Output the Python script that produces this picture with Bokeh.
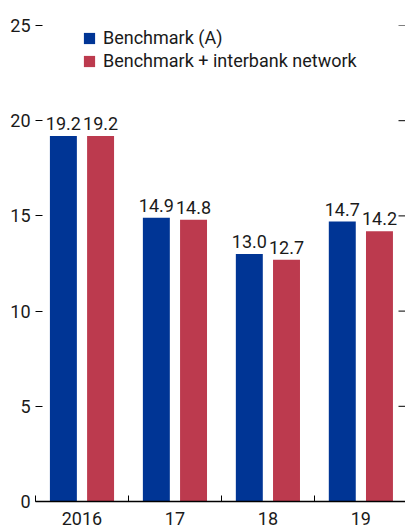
import numpy as np
from bokeh.plotting import figure
from bokeh.models import ColumnDataSource, FixedTicker, LinearAxis, Range1d, Legend, LegendItem
from bokeh.core.properties import value
from bokeh.embed import file_html
from bokeh.resources import INLINE

categories = ["2016", "17", "18", "19"]
benchmark = [19.2, 14.9, 13.0, 14.7]
interbank = [19.2, 14.8, 12.7, 14.2]
series_names = ["Benchmark (A)", "Benchmark + interbank network"]
y_ticks = [0, 5, 10, 15, 20, 25]

BLUE = "#003595"
RED = "#BC3A4E"
FONT = "Roboto"
FS = "18px"
TXT = "#1a1a1a"

X_END = 3.98
centers = np.arange(len(categories)) + 0.5
src_a = ColumnDataSource(dict(x=centers - 0.2, top=benchmark, lab=[f"{v:.1f}" for v in benchmark]))
src_b = ColumnDataSource(dict(x=centers + 0.2, top=interbank, lab=[f"{v:.1f}" for v in interbank]))

p = figure(width=405, height=529, output_backend="svg", toolbar_location=None,
           x_range=Range1d(0, X_END), y_range=Range1d(0, 25),
           min_border_left=35, min_border_right=0, min_border_top=25, min_border_bottom=28,
           y_axis_location=None)
p.outline_line_color = None
p.grid.visible = False
p.background_fill_color = "white"
p.border_fill_color = "white"

r1 = p.vbar(x="x", top="top", width=0.29, source=src_a, color=BLUE, line_color=None)
r2 = p.vbar(x="x", top="top", width=0.29, source=src_b, color=RED, line_color=None)

for s in (src_a, src_b):
    p.text(x="x", y="top", text="lab", source=s, text_align="center", text_baseline="bottom",
           y_offset=-6, text_font=value(FONT), text_font_size=FS, text_color=TXT)

# right-side tick marks (dash markers centred on the frame edge, clipped to the frame)
p.scatter(x=[X_END] * len(y_ticks), y=y_ticks, marker="dash", size=14,
          line_color="black", line_width=1)

# x axis
xa = p.xaxis[0]
xa.ticker = FixedTicker(ticks=list(centers), minor_ticks=list(range(len(categories) + 1)))
xa.major_label_overrides = {float(c): lab for c, lab in zip(centers, categories)}
xa.major_tick_in = 0
xa.major_tick_out = 0
xa.minor_tick_in = 6
xa.minor_tick_out = 0
xa.minor_tick_line_color = "black"
xa.axis_line_color = "black"
xa.axis_line_width = 1.5
xa.major_label_text_font = FONT
xa.major_label_text_font_size = FS
xa.major_label_text_color = TXT
xa.major_label_standoff = 10

# left axis
ya = LinearAxis(ticker=FixedTicker(ticks=y_ticks))
ya.axis_line_color = None
ya.major_tick_in = 7
ya.major_tick_out = 0
ya.minor_tick_line_color = None
ya.major_label_text_font = FONT
ya.major_label_text_font_size = FS
ya.major_label_text_color = TXT
ya.major_label_standoff = 5
p.add_layout(ya, "left")

legend = Legend(items=[LegendItem(label=series_names[0], renderers=[r1]),
                       LegendItem(label=series_names[1], renderers=[r2])],
                location=(47, 430), orientation="vertical")
legend.border_line_color = None
legend.background_fill_alpha = 0
legend.padding = 0
legend.margin = 0
legend.spacing = 2
legend.glyph_width = 14
legend.glyph_height = 14
legend.label_height = 20
legend.label_standoff = 7
legend.label_text_font = FONT
legend.label_text_font_size = FS
legend.label_text_color = TXT
p.add_layout(legend)

open("out.html", "w").write(file_html(p, INLINE))
